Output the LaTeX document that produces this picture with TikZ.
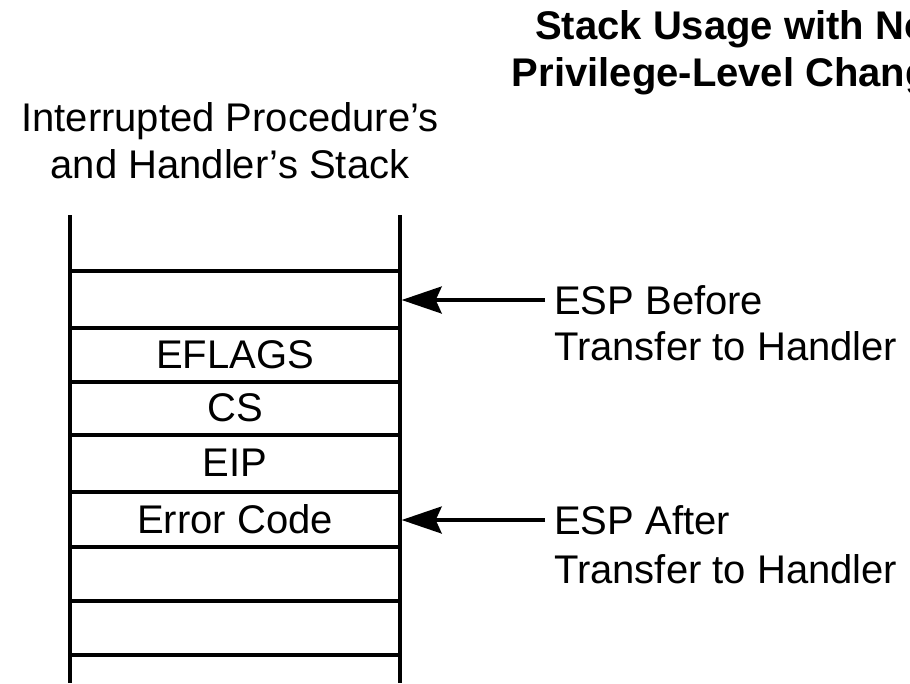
\documentclass[tikz,border=0pt]{standalone}
\usepackage{fontspec}
\setmainfont{Liberation Sans}
\usetikzlibrary{arrows.meta}
\tikzset{
	wall/.style={line width=3.4pt, color=black},
	entry/.style={inner sep=0pt, font=\fontsize{40}{47}\selectfont},
	note/.style={inner xsep=9pt, inner ysep=0pt, font=\fontsize{40}{47}\selectfont},
	ptr/.style={line width=3.2pt, -{Stealth[length=40pt, width=27pt, inset=6pt]}},
}

\begin{document}
\begin{tikzpicture}[x=1pt, y=-1pt]
			%%%%% START %%%%%
			
			\useasboundingbox (0, 0) rectangle (910, 683);
			\clip (0, 0) rectangle (910, 683);
			
			\node[entry, align=center, anchor=north, font=\bfseries\fontsize{40}{47}\selectfont] (title) at (732, 10) {Stack Usage with No\\Privilege-Level Change};
			\node[entry, align=center, anchor=north] (head) at (230, 102) {Interrupted Procedure's\\and Handler's Stack};
			
			% stack walls and slot borders
			\draw[wall] (70, 215) -- (70, 683);
			\draw[wall] (400, 215) -- (400, 683);
			\foreach \y in {271, 328, 382, 435, 492, 547, 601, 655}
				\draw[wall] (70, \y) -- (400, \y);
			
			\node[entry] (eflags) at (235, 355) {EFLAGS};
			\node[entry] (cs) at (235, 408) {CS};
			\node[entry] (eip) at (235, 463) {EIP};
			\node[entry] (errcode) at (235, 519) {Error Code};
			
			% stack pointer before and after
			\coordinate (espold) at (401.7, 300);
			\coordinate (espnew) at (401.7, 520);
			
			\node[note, anchor=west] (before) at (545, 300) {ESP Before};
			\node[note, anchor=base west] (beforex) at (545, 360) {Transfer to Handler};
			\node[note, anchor=west] (after) at (545, 520) {ESP After};
			\node[note, anchor=base west] (afterx) at (545, 583) {Transfer to Handler};
			
			\draw[ptr] (before.west) -- (espold);
			\draw[ptr] (after.west) -- (espnew);
			
			%%%%% END %%%%%
\end{tikzpicture}
\end{document}
